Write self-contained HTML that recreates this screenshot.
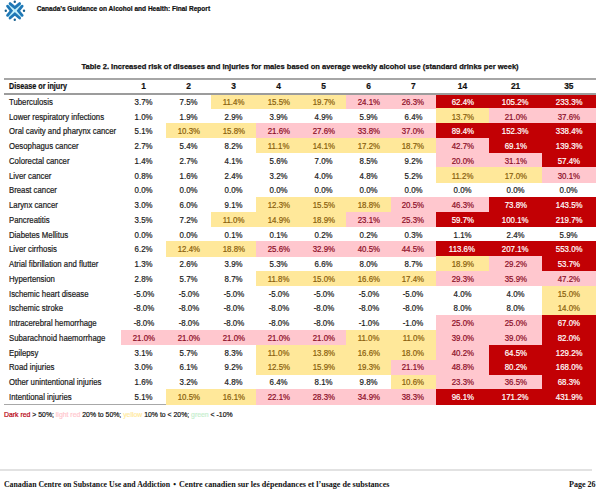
<!DOCTYPE html>
<html><head><meta charset="utf-8">
<style>
html,body{margin:0;padding:0;background:#fff;}
body{width:600px;height:490px;position:relative;overflow:hidden;font-family:"Liberation Sans",sans-serif;}
.logo{position:absolute;left:0;top:0;}
.top{position:absolute;left:36.7px;top:4.6px;font-size:6.55px;line-height:8px;font-weight:bold;color:#111;white-space:nowrap;-webkit-text-stroke:0.2px #111;}
.title{position:absolute;left:0;width:599.6px;text-align:center;top:62.2px;font-size:7.9px;line-height:10px;font-weight:bold;color:#111;white-space:nowrap;-webkit-text-stroke:0.25px #111;}
.title span{display:inline-block;transform:scaleX(0.954);}
.ln{position:absolute;background:#a0a0a0;}
.bg{position:absolute;height:15.29px;}
.c,.h,.lb,.hl{position:absolute;height:14.79px;line-height:14.79px;font-size:8.4px;white-space:nowrap;color:#1a1a1a;-webkit-text-stroke:0.2px currentColor;}
.c span,.h span{display:inline-block;transform:scaleX(0.94);}
.lb span,.hl span{display:inline-block;transform:scaleX(0.928);transform-origin:0 50%;}
.c{text-align:center;}
.h{top:79.2px;text-align:center;font-weight:bold;color:#111;}
.hl span{transform:scaleX(0.86);}
.h span{transform:scaleX(1.0);}
.lb{left:9.2px;}
.hl{left:9.1px;top:79.2px;font-weight:bold;color:#111;}
.leg{position:absolute;left:4px;top:410px;font-size:7.3px;color:#111;white-space:nowrap;-webkit-text-stroke:0.2px currentColor;transform:scaleX(0.943);transform-origin:0 50%;}
.foot{position:absolute;top:479.5px;line-height:10px;font-family:"Liberation Serif",serif;font-weight:bold;font-size:7.9px;color:#111;white-space:nowrap;transform:scaleX(1.0);transform-origin:0 50%;}
</style></head><body>
<svg class="logo" width="30" height="24" viewBox="0 0 30 24">
<g stroke="#bff0fb" stroke-width="1.8" stroke-linecap="round"><line x1="9.25" y1="5.18" x2="20.45" y2="16.38"/><line x1="20.45" y1="5.18" x2="9.25" y2="16.38"/></g>
<g fill="none" stroke="#1f78b6" stroke-width="2.8" stroke-linecap="round" stroke-linejoin="miter" stroke-miterlimit="8">
<polyline points="10.05,3.58 14.85,7.63 19.65,3.58"/><polyline points="10.05,17.98 14.85,13.93 19.65,17.98"/><polyline points="7.55,6.18 11.35,10.78 7.55,15.38"/><polyline points="22.15,6.18 18.35,10.78 22.15,15.38"/>
</g>
<g fill="#17608f">
<circle cx="14.78" cy="1.8" r="1.2"/>
<circle cx="14.78" cy="19.75" r="1.2"/>
<circle cx="5.8" cy="10.78" r="1.2"/>
<circle cx="24.0" cy="10.78" r="1.2"/>
</g>
</svg>
<div class="top">Canada&#8217;s Guidance on Alcohol and Health: Final Report</div>
<div class="title"><span>Table 2. Increased risk of diseases and injuries for males based on average weekly alcohol use (standard drinks per week)</span></div>
<div class="ln" style="left:3.5px;width:592.1px;top:403.6px;height:1.2px;background:#a8a8a8"></div>
<div class="bg" style="left:211px;width:45.6px;top:93.50px;background:#ffe89a"></div><div class="bg" style="left:256px;width:45.6px;top:93.50px;background:#ffe89a"></div><div class="bg" style="left:301px;width:45.6px;top:93.50px;background:#ffe89a"></div><div class="bg" style="left:346px;width:45.6px;top:93.50px;background:#ffc7ce"></div><div class="bg" style="left:391px;width:45.2px;top:93.50px;background:#ffc7ce"></div><div class="bg" style="left:435.6px;width:54.2px;top:93.50px;background:#c20004"></div><div class="bg" style="left:489.2px;width:53.4px;top:93.50px;background:#c20004"></div><div class="bg" style="left:542px;width:53.6px;top:93.50px;background:#c20004"></div><div class="bg" style="left:435.6px;width:54.2px;top:108.29px;background:#ffe89a"></div><div class="bg" style="left:489.2px;width:53.4px;top:108.29px;background:#ffc7ce"></div><div class="bg" style="left:542px;width:53.6px;top:108.29px;background:#ffc7ce"></div><div class="bg" style="left:166px;width:45.6px;top:123.08px;background:#ffe89a"></div><div class="bg" style="left:211px;width:45.6px;top:123.08px;background:#ffe89a"></div><div class="bg" style="left:256px;width:45.6px;top:123.08px;background:#ffc7ce"></div><div class="bg" style="left:301px;width:45.6px;top:123.08px;background:#ffc7ce"></div><div class="bg" style="left:346px;width:45.6px;top:123.08px;background:#ffc7ce"></div><div class="bg" style="left:391px;width:45.2px;top:123.08px;background:#ffc7ce"></div><div class="bg" style="left:435.6px;width:54.2px;top:123.08px;background:#c20004"></div><div class="bg" style="left:489.2px;width:53.4px;top:123.08px;background:#c20004"></div><div class="bg" style="left:542px;width:53.6px;top:123.08px;background:#c20004"></div><div class="bg" style="left:256px;width:45.6px;top:137.87px;background:#ffe89a"></div><div class="bg" style="left:301px;width:45.6px;top:137.87px;background:#ffe89a"></div><div class="bg" style="left:346px;width:45.6px;top:137.87px;background:#ffe89a"></div><div class="bg" style="left:391px;width:45.2px;top:137.87px;background:#ffe89a"></div><div class="bg" style="left:435.6px;width:54.2px;top:137.87px;background:#ffc7ce"></div><div class="bg" style="left:489.2px;width:53.4px;top:137.87px;background:#c20004"></div><div class="bg" style="left:542px;width:53.6px;top:137.87px;background:#c20004"></div><div class="bg" style="left:435.6px;width:54.2px;top:152.66px;background:#ffc7ce"></div><div class="bg" style="left:489.2px;width:53.4px;top:152.66px;background:#ffc7ce"></div><div class="bg" style="left:542px;width:53.6px;top:152.66px;background:#c20004"></div><div class="bg" style="left:435.6px;width:54.2px;top:167.45px;background:#ffe89a"></div><div class="bg" style="left:489.2px;width:53.4px;top:167.45px;background:#ffe89a"></div><div class="bg" style="left:542px;width:53.6px;top:167.45px;background:#ffc7ce"></div><div class="bg" style="left:256px;width:45.6px;top:197.03px;background:#ffe89a"></div><div class="bg" style="left:301px;width:45.6px;top:197.03px;background:#ffe89a"></div><div class="bg" style="left:346px;width:45.6px;top:197.03px;background:#ffe89a"></div><div class="bg" style="left:391px;width:45.2px;top:197.03px;background:#ffc7ce"></div><div class="bg" style="left:435.6px;width:54.2px;top:197.03px;background:#ffc7ce"></div><div class="bg" style="left:489.2px;width:53.4px;top:197.03px;background:#c20004"></div><div class="bg" style="left:542px;width:53.6px;top:197.03px;background:#c20004"></div><div class="bg" style="left:211px;width:45.6px;top:211.82px;background:#ffe89a"></div><div class="bg" style="left:256px;width:45.6px;top:211.82px;background:#ffe89a"></div><div class="bg" style="left:301px;width:45.6px;top:211.82px;background:#ffe89a"></div><div class="bg" style="left:346px;width:45.6px;top:211.82px;background:#ffc7ce"></div><div class="bg" style="left:391px;width:45.2px;top:211.82px;background:#ffc7ce"></div><div class="bg" style="left:435.6px;width:54.2px;top:211.82px;background:#c20004"></div><div class="bg" style="left:489.2px;width:53.4px;top:211.82px;background:#c20004"></div><div class="bg" style="left:542px;width:53.6px;top:211.82px;background:#c20004"></div><div class="bg" style="left:166px;width:45.6px;top:241.40px;background:#ffe89a"></div><div class="bg" style="left:211px;width:45.6px;top:241.40px;background:#ffe89a"></div><div class="bg" style="left:256px;width:45.6px;top:241.40px;background:#ffc7ce"></div><div class="bg" style="left:301px;width:45.6px;top:241.40px;background:#ffc7ce"></div><div class="bg" style="left:346px;width:45.6px;top:241.40px;background:#ffc7ce"></div><div class="bg" style="left:391px;width:45.2px;top:241.40px;background:#ffc7ce"></div><div class="bg" style="left:435.6px;width:54.2px;top:241.40px;background:#c20004"></div><div class="bg" style="left:489.2px;width:53.4px;top:241.40px;background:#c20004"></div><div class="bg" style="left:542px;width:53.6px;top:241.40px;background:#c20004"></div><div class="bg" style="left:435.6px;width:54.2px;top:256.19px;background:#ffe89a"></div><div class="bg" style="left:489.2px;width:53.4px;top:256.19px;background:#ffc7ce"></div><div class="bg" style="left:542px;width:53.6px;top:256.19px;background:#c20004"></div><div class="bg" style="left:256px;width:45.6px;top:270.98px;background:#ffe89a"></div><div class="bg" style="left:301px;width:45.6px;top:270.98px;background:#ffe89a"></div><div class="bg" style="left:346px;width:45.6px;top:270.98px;background:#ffe89a"></div><div class="bg" style="left:391px;width:45.2px;top:270.98px;background:#ffe89a"></div><div class="bg" style="left:435.6px;width:54.2px;top:270.98px;background:#ffc7ce"></div><div class="bg" style="left:489.2px;width:53.4px;top:270.98px;background:#ffc7ce"></div><div class="bg" style="left:542px;width:53.6px;top:270.98px;background:#ffc7ce"></div><div class="bg" style="left:542px;width:53.6px;top:285.77px;background:#ffe89a"></div><div class="bg" style="left:542px;width:53.6px;top:300.56px;background:#ffe89a"></div><div class="bg" style="left:435.6px;width:54.2px;top:315.35px;background:#ffc7ce"></div><div class="bg" style="left:489.2px;width:53.4px;top:315.35px;background:#ffc7ce"></div><div class="bg" style="left:542px;width:53.6px;top:315.35px;background:#c20004"></div><div class="bg" style="left:121px;width:45.6px;top:330.14px;background:#ffc7ce"></div><div class="bg" style="left:166px;width:45.6px;top:330.14px;background:#ffc7ce"></div><div class="bg" style="left:211px;width:45.6px;top:330.14px;background:#ffc7ce"></div><div class="bg" style="left:256px;width:45.6px;top:330.14px;background:#ffc7ce"></div><div class="bg" style="left:301px;width:45.6px;top:330.14px;background:#ffc7ce"></div><div class="bg" style="left:346px;width:45.6px;top:330.14px;background:#ffe89a"></div><div class="bg" style="left:391px;width:45.2px;top:330.14px;background:#ffe89a"></div><div class="bg" style="left:435.6px;width:54.2px;top:330.14px;background:#ffc7ce"></div><div class="bg" style="left:489.2px;width:53.4px;top:330.14px;background:#ffc7ce"></div><div class="bg" style="left:542px;width:53.6px;top:330.14px;background:#c20004"></div><div class="bg" style="left:256px;width:45.6px;top:344.93px;background:#ffe89a"></div><div class="bg" style="left:301px;width:45.6px;top:344.93px;background:#ffe89a"></div><div class="bg" style="left:346px;width:45.6px;top:344.93px;background:#ffe89a"></div><div class="bg" style="left:391px;width:45.2px;top:344.93px;background:#ffe89a"></div><div class="bg" style="left:435.6px;width:54.2px;top:344.93px;background:#ffc7ce"></div><div class="bg" style="left:489.2px;width:53.4px;top:344.93px;background:#c20004"></div><div class="bg" style="left:542px;width:53.6px;top:344.93px;background:#c20004"></div><div class="bg" style="left:256px;width:45.6px;top:359.72px;background:#ffe89a"></div><div class="bg" style="left:301px;width:45.6px;top:359.72px;background:#ffe89a"></div><div class="bg" style="left:346px;width:45.6px;top:359.72px;background:#ffe89a"></div><div class="bg" style="left:391px;width:45.2px;top:359.72px;background:#ffc7ce"></div><div class="bg" style="left:435.6px;width:54.2px;top:359.72px;background:#ffc7ce"></div><div class="bg" style="left:489.2px;width:53.4px;top:359.72px;background:#c20004"></div><div class="bg" style="left:542px;width:53.6px;top:359.72px;background:#c20004"></div><div class="bg" style="left:391px;width:45.2px;top:374.51px;background:#ffe89a"></div><div class="bg" style="left:435.6px;width:54.2px;top:374.51px;background:#ffc7ce"></div><div class="bg" style="left:489.2px;width:53.4px;top:374.51px;background:#ffc7ce"></div><div class="bg" style="left:542px;width:53.6px;top:374.51px;background:#c20004"></div><div class="bg" style="left:166px;width:45.6px;top:389.30px;background:#ffe89a"></div><div class="bg" style="left:211px;width:45.6px;top:389.30px;background:#ffe89a"></div><div class="bg" style="left:256px;width:45.6px;top:389.30px;background:#ffc7ce"></div><div class="bg" style="left:301px;width:45.6px;top:389.30px;background:#ffc7ce"></div><div class="bg" style="left:346px;width:45.6px;top:389.30px;background:#ffc7ce"></div><div class="bg" style="left:391px;width:45.2px;top:389.30px;background:#ffc7ce"></div><div class="bg" style="left:435.6px;width:54.2px;top:389.30px;background:#c20004"></div><div class="bg" style="left:489.2px;width:53.4px;top:389.30px;background:#c20004"></div><div class="bg" style="left:542px;width:53.6px;top:389.30px;background:#c20004"></div>
<div class="ln" style="left:4px;width:591.6px;top:78.2px;height:1.5px;background:#a6a6a6"></div>
<div class="ln" style="left:4px;width:591.6px;top:93.3px;height:1.5px;background:#9c9c9c"></div>
<div class="hl"><span>Disease or injury</span></div>
<div class="h" style="left:121px;width:45.0px"><span>1</span></div><div class="h" style="left:166px;width:45.0px"><span>2</span></div><div class="h" style="left:211px;width:45.0px"><span>3</span></div><div class="h" style="left:256px;width:45.0px"><span>4</span></div><div class="h" style="left:301px;width:45.0px"><span>5</span></div><div class="h" style="left:346px;width:45.0px"><span>6</span></div><div class="h" style="left:391px;width:44.6px"><span>7</span></div><div class="h" style="left:435.6px;width:53.6px"><span>14</span></div><div class="h" style="left:489.2px;width:52.8px"><span>21</span></div><div class="h" style="left:542px;width:53.6px"><span>35</span></div>
<div class="lb" style="top:95.00px"><span>Tuberculosis</span></div><div class="c" style="left:121px;width:45.0px;top:95.00px;"><span>3.7%</span></div><div class="c" style="left:166px;width:45.0px;top:95.00px;"><span>7.5%</span></div><div class="c" style="left:211px;width:45.0px;top:95.00px;color:#8a5e0c"><span>11.4%</span></div><div class="c" style="left:256px;width:45.0px;top:95.00px;color:#8a5e0c"><span>15.5%</span></div><div class="c" style="left:301px;width:45.0px;top:95.00px;color:#8a5e0c"><span>19.7%</span></div><div class="c" style="left:346px;width:45.0px;top:95.00px;color:#8c0c26"><span>24.1%</span></div><div class="c" style="left:391px;width:44.6px;top:95.00px;color:#8c0c26"><span>26.3%</span></div><div class="c" style="left:435.6px;width:53.6px;top:95.00px;color:#ffffff"><span>62.4%</span></div><div class="c" style="left:489.2px;width:52.8px;top:95.00px;color:#ffffff"><span>105.2%</span></div><div class="c" style="left:542px;width:53.6px;top:95.00px;color:#ffffff"><span>233.3%</span></div><div class="lb" style="top:109.74px"><span>Lower respiratory infections</span></div><div class="c" style="left:121px;width:45.0px;top:109.74px;"><span>1.0%</span></div><div class="c" style="left:166px;width:45.0px;top:109.74px;"><span>1.9%</span></div><div class="c" style="left:211px;width:45.0px;top:109.74px;"><span>2.9%</span></div><div class="c" style="left:256px;width:45.0px;top:109.74px;"><span>3.9%</span></div><div class="c" style="left:301px;width:45.0px;top:109.74px;"><span>4.9%</span></div><div class="c" style="left:346px;width:45.0px;top:109.74px;"><span>5.9%</span></div><div class="c" style="left:391px;width:44.6px;top:109.74px;"><span>6.4%</span></div><div class="c" style="left:435.6px;width:53.6px;top:109.74px;color:#8a5e0c"><span>13.7%</span></div><div class="c" style="left:489.2px;width:52.8px;top:109.74px;color:#8c0c26"><span>21.0%</span></div><div class="c" style="left:542px;width:53.6px;top:109.74px;color:#8c0c26"><span>37.6%</span></div><div class="lb" style="top:124.48px"><span>Oral cavity and pharynx cancer</span></div><div class="c" style="left:121px;width:45.0px;top:124.48px;"><span>5.1%</span></div><div class="c" style="left:166px;width:45.0px;top:124.48px;color:#8a5e0c"><span>10.3%</span></div><div class="c" style="left:211px;width:45.0px;top:124.48px;color:#8a5e0c"><span>15.8%</span></div><div class="c" style="left:256px;width:45.0px;top:124.48px;color:#8c0c26"><span>21.6%</span></div><div class="c" style="left:301px;width:45.0px;top:124.48px;color:#8c0c26"><span>27.6%</span></div><div class="c" style="left:346px;width:45.0px;top:124.48px;color:#8c0c26"><span>33.8%</span></div><div class="c" style="left:391px;width:44.6px;top:124.48px;color:#8c0c26"><span>37.0%</span></div><div class="c" style="left:435.6px;width:53.6px;top:124.48px;color:#ffffff"><span>89.4%</span></div><div class="c" style="left:489.2px;width:52.8px;top:124.48px;color:#ffffff"><span>152.3%</span></div><div class="c" style="left:542px;width:53.6px;top:124.48px;color:#ffffff"><span>338.4%</span></div><div class="lb" style="top:139.22px"><span>Oesophagus cancer</span></div><div class="c" style="left:121px;width:45.0px;top:139.22px;"><span>2.7%</span></div><div class="c" style="left:166px;width:45.0px;top:139.22px;"><span>5.4%</span></div><div class="c" style="left:211px;width:45.0px;top:139.22px;"><span>8.2%</span></div><div class="c" style="left:256px;width:45.0px;top:139.22px;color:#8a5e0c"><span>11.1%</span></div><div class="c" style="left:301px;width:45.0px;top:139.22px;color:#8a5e0c"><span>14.1%</span></div><div class="c" style="left:346px;width:45.0px;top:139.22px;color:#8a5e0c"><span>17.2%</span></div><div class="c" style="left:391px;width:44.6px;top:139.22px;color:#8a5e0c"><span>18.7%</span></div><div class="c" style="left:435.6px;width:53.6px;top:139.22px;color:#8c0c26"><span>42.7%</span></div><div class="c" style="left:489.2px;width:52.8px;top:139.22px;color:#ffffff"><span>69.1%</span></div><div class="c" style="left:542px;width:53.6px;top:139.22px;color:#ffffff"><span>139.3%</span></div><div class="lb" style="top:153.96px"><span>Colorectal cancer</span></div><div class="c" style="left:121px;width:45.0px;top:153.96px;"><span>1.4%</span></div><div class="c" style="left:166px;width:45.0px;top:153.96px;"><span>2.7%</span></div><div class="c" style="left:211px;width:45.0px;top:153.96px;"><span>4.1%</span></div><div class="c" style="left:256px;width:45.0px;top:153.96px;"><span>5.6%</span></div><div class="c" style="left:301px;width:45.0px;top:153.96px;"><span>7.0%</span></div><div class="c" style="left:346px;width:45.0px;top:153.96px;"><span>8.5%</span></div><div class="c" style="left:391px;width:44.6px;top:153.96px;"><span>9.2%</span></div><div class="c" style="left:435.6px;width:53.6px;top:153.96px;color:#8c0c26"><span>20.0%</span></div><div class="c" style="left:489.2px;width:52.8px;top:153.96px;color:#8c0c26"><span>31.1%</span></div><div class="c" style="left:542px;width:53.6px;top:153.96px;color:#ffffff"><span>57.4%</span></div><div class="lb" style="top:168.70px"><span>Liver cancer</span></div><div class="c" style="left:121px;width:45.0px;top:168.70px;"><span>0.8%</span></div><div class="c" style="left:166px;width:45.0px;top:168.70px;"><span>1.6%</span></div><div class="c" style="left:211px;width:45.0px;top:168.70px;"><span>2.4%</span></div><div class="c" style="left:256px;width:45.0px;top:168.70px;"><span>3.2%</span></div><div class="c" style="left:301px;width:45.0px;top:168.70px;"><span>4.0%</span></div><div class="c" style="left:346px;width:45.0px;top:168.70px;"><span>4.8%</span></div><div class="c" style="left:391px;width:44.6px;top:168.70px;"><span>5.2%</span></div><div class="c" style="left:435.6px;width:53.6px;top:168.70px;color:#8a5e0c"><span>11.2%</span></div><div class="c" style="left:489.2px;width:52.8px;top:168.70px;color:#8a5e0c"><span>17.0%</span></div><div class="c" style="left:542px;width:53.6px;top:168.70px;color:#8c0c26"><span>30.1%</span></div><div class="lb" style="top:183.44px"><span>Breast cancer</span></div><div class="c" style="left:121px;width:45.0px;top:183.44px;"><span>0.0%</span></div><div class="c" style="left:166px;width:45.0px;top:183.44px;"><span>0.0%</span></div><div class="c" style="left:211px;width:45.0px;top:183.44px;"><span>0.0%</span></div><div class="c" style="left:256px;width:45.0px;top:183.44px;"><span>0.0%</span></div><div class="c" style="left:301px;width:45.0px;top:183.44px;"><span>0.0%</span></div><div class="c" style="left:346px;width:45.0px;top:183.44px;"><span>0.0%</span></div><div class="c" style="left:391px;width:44.6px;top:183.44px;"><span>0.0%</span></div><div class="c" style="left:435.6px;width:53.6px;top:183.44px;"><span>0.0%</span></div><div class="c" style="left:489.2px;width:52.8px;top:183.44px;"><span>0.0%</span></div><div class="c" style="left:542px;width:53.6px;top:183.44px;"><span>0.0%</span></div><div class="lb" style="top:198.18px"><span>Larynx cancer</span></div><div class="c" style="left:121px;width:45.0px;top:198.18px;"><span>3.0%</span></div><div class="c" style="left:166px;width:45.0px;top:198.18px;"><span>6.0%</span></div><div class="c" style="left:211px;width:45.0px;top:198.18px;"><span>9.1%</span></div><div class="c" style="left:256px;width:45.0px;top:198.18px;color:#8a5e0c"><span>12.3%</span></div><div class="c" style="left:301px;width:45.0px;top:198.18px;color:#8a5e0c"><span>15.5%</span></div><div class="c" style="left:346px;width:45.0px;top:198.18px;color:#8a5e0c"><span>18.8%</span></div><div class="c" style="left:391px;width:44.6px;top:198.18px;color:#8c0c26"><span>20.5%</span></div><div class="c" style="left:435.6px;width:53.6px;top:198.18px;color:#8c0c26"><span>46.3%</span></div><div class="c" style="left:489.2px;width:52.8px;top:198.18px;color:#ffffff"><span>73.8%</span></div><div class="c" style="left:542px;width:53.6px;top:198.18px;color:#ffffff"><span>143.5%</span></div><div class="lb" style="top:212.92px"><span>Pancreatitis</span></div><div class="c" style="left:121px;width:45.0px;top:212.92px;"><span>3.5%</span></div><div class="c" style="left:166px;width:45.0px;top:212.92px;"><span>7.2%</span></div><div class="c" style="left:211px;width:45.0px;top:212.92px;color:#8a5e0c"><span>11.0%</span></div><div class="c" style="left:256px;width:45.0px;top:212.92px;color:#8a5e0c"><span>14.9%</span></div><div class="c" style="left:301px;width:45.0px;top:212.92px;color:#8a5e0c"><span>18.9%</span></div><div class="c" style="left:346px;width:45.0px;top:212.92px;color:#8c0c26"><span>23.1%</span></div><div class="c" style="left:391px;width:44.6px;top:212.92px;color:#8c0c26"><span>25.3%</span></div><div class="c" style="left:435.6px;width:53.6px;top:212.92px;color:#ffffff"><span>59.7%</span></div><div class="c" style="left:489.2px;width:52.8px;top:212.92px;color:#ffffff"><span>100.1%</span></div><div class="c" style="left:542px;width:53.6px;top:212.92px;color:#ffffff"><span>219.7%</span></div><div class="lb" style="top:227.66px"><span>Diabetes Mellitus</span></div><div class="c" style="left:121px;width:45.0px;top:227.66px;"><span>0.0%</span></div><div class="c" style="left:166px;width:45.0px;top:227.66px;"><span>0.0%</span></div><div class="c" style="left:211px;width:45.0px;top:227.66px;"><span>0.1%</span></div><div class="c" style="left:256px;width:45.0px;top:227.66px;"><span>0.1%</span></div><div class="c" style="left:301px;width:45.0px;top:227.66px;"><span>0.2%</span></div><div class="c" style="left:346px;width:45.0px;top:227.66px;"><span>0.2%</span></div><div class="c" style="left:391px;width:44.6px;top:227.66px;"><span>0.3%</span></div><div class="c" style="left:435.6px;width:53.6px;top:227.66px;"><span>1.1%</span></div><div class="c" style="left:489.2px;width:52.8px;top:227.66px;"><span>2.4%</span></div><div class="c" style="left:542px;width:53.6px;top:227.66px;"><span>5.9%</span></div><div class="lb" style="top:242.40px"><span>Liver cirrhosis</span></div><div class="c" style="left:121px;width:45.0px;top:242.40px;"><span>6.2%</span></div><div class="c" style="left:166px;width:45.0px;top:242.40px;color:#8a5e0c"><span>12.4%</span></div><div class="c" style="left:211px;width:45.0px;top:242.40px;color:#8a5e0c"><span>18.8%</span></div><div class="c" style="left:256px;width:45.0px;top:242.40px;color:#8c0c26"><span>25.6%</span></div><div class="c" style="left:301px;width:45.0px;top:242.40px;color:#8c0c26"><span>32.9%</span></div><div class="c" style="left:346px;width:45.0px;top:242.40px;color:#8c0c26"><span>40.5%</span></div><div class="c" style="left:391px;width:44.6px;top:242.40px;color:#8c0c26"><span>44.5%</span></div><div class="c" style="left:435.6px;width:53.6px;top:242.40px;color:#ffffff"><span>113.6%</span></div><div class="c" style="left:489.2px;width:52.8px;top:242.40px;color:#ffffff"><span>207.1%</span></div><div class="c" style="left:542px;width:53.6px;top:242.40px;color:#ffffff"><span>553.0%</span></div><div class="lb" style="top:257.14px"><span>Atrial fibrillation and flutter</span></div><div class="c" style="left:121px;width:45.0px;top:257.14px;"><span>1.3%</span></div><div class="c" style="left:166px;width:45.0px;top:257.14px;"><span>2.6%</span></div><div class="c" style="left:211px;width:45.0px;top:257.14px;"><span>3.9%</span></div><div class="c" style="left:256px;width:45.0px;top:257.14px;"><span>5.3%</span></div><div class="c" style="left:301px;width:45.0px;top:257.14px;"><span>6.6%</span></div><div class="c" style="left:346px;width:45.0px;top:257.14px;"><span>8.0%</span></div><div class="c" style="left:391px;width:44.6px;top:257.14px;"><span>8.7%</span></div><div class="c" style="left:435.6px;width:53.6px;top:257.14px;color:#8a5e0c"><span>18.9%</span></div><div class="c" style="left:489.2px;width:52.8px;top:257.14px;color:#8c0c26"><span>29.2%</span></div><div class="c" style="left:542px;width:53.6px;top:257.14px;color:#ffffff"><span>53.7%</span></div><div class="lb" style="top:271.88px"><span>Hypertension</span></div><div class="c" style="left:121px;width:45.0px;top:271.88px;"><span>2.8%</span></div><div class="c" style="left:166px;width:45.0px;top:271.88px;"><span>5.7%</span></div><div class="c" style="left:211px;width:45.0px;top:271.88px;"><span>8.7%</span></div><div class="c" style="left:256px;width:45.0px;top:271.88px;color:#8a5e0c"><span>11.8%</span></div><div class="c" style="left:301px;width:45.0px;top:271.88px;color:#8a5e0c"><span>15.0%</span></div><div class="c" style="left:346px;width:45.0px;top:271.88px;color:#8a5e0c"><span>16.6%</span></div><div class="c" style="left:391px;width:44.6px;top:271.88px;color:#8a5e0c"><span>17.4%</span></div><div class="c" style="left:435.6px;width:53.6px;top:271.88px;color:#8c0c26"><span>29.3%</span></div><div class="c" style="left:489.2px;width:52.8px;top:271.88px;color:#8c0c26"><span>35.9%</span></div><div class="c" style="left:542px;width:53.6px;top:271.88px;color:#8c0c26"><span>47.2%</span></div><div class="lb" style="top:286.62px"><span>Ischemic heart disease</span></div><div class="c" style="left:121px;width:45.0px;top:286.62px;"><span>-5.0%</span></div><div class="c" style="left:166px;width:45.0px;top:286.62px;"><span>-5.0%</span></div><div class="c" style="left:211px;width:45.0px;top:286.62px;"><span>-5.0%</span></div><div class="c" style="left:256px;width:45.0px;top:286.62px;"><span>-5.0%</span></div><div class="c" style="left:301px;width:45.0px;top:286.62px;"><span>-5.0%</span></div><div class="c" style="left:346px;width:45.0px;top:286.62px;"><span>-5.0%</span></div><div class="c" style="left:391px;width:44.6px;top:286.62px;"><span>-5.0%</span></div><div class="c" style="left:435.6px;width:53.6px;top:286.62px;"><span>4.0%</span></div><div class="c" style="left:489.2px;width:52.8px;top:286.62px;"><span>4.0%</span></div><div class="c" style="left:542px;width:53.6px;top:286.62px;color:#8a5e0c"><span>15.0%</span></div><div class="lb" style="top:301.36px"><span>Ischemic stroke</span></div><div class="c" style="left:121px;width:45.0px;top:301.36px;"><span>-8.0%</span></div><div class="c" style="left:166px;width:45.0px;top:301.36px;"><span>-8.0%</span></div><div class="c" style="left:211px;width:45.0px;top:301.36px;"><span>-8.0%</span></div><div class="c" style="left:256px;width:45.0px;top:301.36px;"><span>-8.0%</span></div><div class="c" style="left:301px;width:45.0px;top:301.36px;"><span>-8.0%</span></div><div class="c" style="left:346px;width:45.0px;top:301.36px;"><span>-8.0%</span></div><div class="c" style="left:391px;width:44.6px;top:301.36px;"><span>-8.0%</span></div><div class="c" style="left:435.6px;width:53.6px;top:301.36px;"><span>8.0%</span></div><div class="c" style="left:489.2px;width:52.8px;top:301.36px;"><span>8.0%</span></div><div class="c" style="left:542px;width:53.6px;top:301.36px;color:#8a5e0c"><span>14.0%</span></div><div class="lb" style="top:316.10px"><span>Intracerebral hemorrhage</span></div><div class="c" style="left:121px;width:45.0px;top:316.10px;"><span>-8.0%</span></div><div class="c" style="left:166px;width:45.0px;top:316.10px;"><span>-8.0%</span></div><div class="c" style="left:211px;width:45.0px;top:316.10px;"><span>-8.0%</span></div><div class="c" style="left:256px;width:45.0px;top:316.10px;"><span>-8.0%</span></div><div class="c" style="left:301px;width:45.0px;top:316.10px;"><span>-8.0%</span></div><div class="c" style="left:346px;width:45.0px;top:316.10px;"><span>-1.0%</span></div><div class="c" style="left:391px;width:44.6px;top:316.10px;"><span>-1.0%</span></div><div class="c" style="left:435.6px;width:53.6px;top:316.10px;color:#8c0c26"><span>25.0%</span></div><div class="c" style="left:489.2px;width:52.8px;top:316.10px;color:#8c0c26"><span>25.0%</span></div><div class="c" style="left:542px;width:53.6px;top:316.10px;color:#ffffff"><span>67.0%</span></div><div class="lb" style="top:330.84px"><span>Subarachnoid haemorrhage</span></div><div class="c" style="left:121px;width:45.0px;top:330.84px;color:#8c0c26"><span>21.0%</span></div><div class="c" style="left:166px;width:45.0px;top:330.84px;color:#8c0c26"><span>21.0%</span></div><div class="c" style="left:211px;width:45.0px;top:330.84px;color:#8c0c26"><span>21.0%</span></div><div class="c" style="left:256px;width:45.0px;top:330.84px;color:#8c0c26"><span>21.0%</span></div><div class="c" style="left:301px;width:45.0px;top:330.84px;color:#8c0c26"><span>21.0%</span></div><div class="c" style="left:346px;width:45.0px;top:330.84px;color:#8a5e0c"><span>11.0%</span></div><div class="c" style="left:391px;width:44.6px;top:330.84px;color:#8a5e0c"><span>11.0%</span></div><div class="c" style="left:435.6px;width:53.6px;top:330.84px;color:#8c0c26"><span>39.0%</span></div><div class="c" style="left:489.2px;width:52.8px;top:330.84px;color:#8c0c26"><span>39.0%</span></div><div class="c" style="left:542px;width:53.6px;top:330.84px;color:#ffffff"><span>82.0%</span></div><div class="lb" style="top:345.58px"><span>Epilepsy</span></div><div class="c" style="left:121px;width:45.0px;top:345.58px;"><span>3.1%</span></div><div class="c" style="left:166px;width:45.0px;top:345.58px;"><span>5.7%</span></div><div class="c" style="left:211px;width:45.0px;top:345.58px;"><span>8.3%</span></div><div class="c" style="left:256px;width:45.0px;top:345.58px;color:#8a5e0c"><span>11.0%</span></div><div class="c" style="left:301px;width:45.0px;top:345.58px;color:#8a5e0c"><span>13.8%</span></div><div class="c" style="left:346px;width:45.0px;top:345.58px;color:#8a5e0c"><span>16.6%</span></div><div class="c" style="left:391px;width:44.6px;top:345.58px;color:#8a5e0c"><span>18.0%</span></div><div class="c" style="left:435.6px;width:53.6px;top:345.58px;color:#8c0c26"><span>40.2%</span></div><div class="c" style="left:489.2px;width:52.8px;top:345.58px;color:#ffffff"><span>64.5%</span></div><div class="c" style="left:542px;width:53.6px;top:345.58px;color:#ffffff"><span>129.2%</span></div><div class="lb" style="top:360.32px"><span>Road injuries</span></div><div class="c" style="left:121px;width:45.0px;top:360.32px;"><span>3.0%</span></div><div class="c" style="left:166px;width:45.0px;top:360.32px;"><span>6.1%</span></div><div class="c" style="left:211px;width:45.0px;top:360.32px;"><span>9.2%</span></div><div class="c" style="left:256px;width:45.0px;top:360.32px;color:#8a5e0c"><span>12.5%</span></div><div class="c" style="left:301px;width:45.0px;top:360.32px;color:#8a5e0c"><span>15.9%</span></div><div class="c" style="left:346px;width:45.0px;top:360.32px;color:#8a5e0c"><span>19.3%</span></div><div class="c" style="left:391px;width:44.6px;top:360.32px;color:#8c0c26"><span>21.1%</span></div><div class="c" style="left:435.6px;width:53.6px;top:360.32px;color:#8c0c26"><span>48.8%</span></div><div class="c" style="left:489.2px;width:52.8px;top:360.32px;color:#ffffff"><span>80.2%</span></div><div class="c" style="left:542px;width:53.6px;top:360.32px;color:#ffffff"><span>168.0%</span></div><div class="lb" style="top:375.06px"><span>Other unintentional injuries</span></div><div class="c" style="left:121px;width:45.0px;top:375.06px;"><span>1.6%</span></div><div class="c" style="left:166px;width:45.0px;top:375.06px;"><span>3.2%</span></div><div class="c" style="left:211px;width:45.0px;top:375.06px;"><span>4.8%</span></div><div class="c" style="left:256px;width:45.0px;top:375.06px;"><span>6.4%</span></div><div class="c" style="left:301px;width:45.0px;top:375.06px;"><span>8.1%</span></div><div class="c" style="left:346px;width:45.0px;top:375.06px;"><span>9.8%</span></div><div class="c" style="left:391px;width:44.6px;top:375.06px;color:#8a5e0c"><span>10.6%</span></div><div class="c" style="left:435.6px;width:53.6px;top:375.06px;color:#8c0c26"><span>23.3%</span></div><div class="c" style="left:489.2px;width:52.8px;top:375.06px;color:#8c0c26"><span>36.5%</span></div><div class="c" style="left:542px;width:53.6px;top:375.06px;color:#ffffff"><span>68.3%</span></div><div class="lb" style="top:389.80px"><span>Intentional injuries</span></div><div class="c" style="left:121px;width:45.0px;top:389.80px;"><span>5.1%</span></div><div class="c" style="left:166px;width:45.0px;top:389.80px;color:#8a5e0c"><span>10.5%</span></div><div class="c" style="left:211px;width:45.0px;top:389.80px;color:#8a5e0c"><span>16.1%</span></div><div class="c" style="left:256px;width:45.0px;top:389.80px;color:#8c0c26"><span>22.1%</span></div><div class="c" style="left:301px;width:45.0px;top:389.80px;color:#8c0c26"><span>28.3%</span></div><div class="c" style="left:346px;width:45.0px;top:389.80px;color:#8c0c26"><span>34.9%</span></div><div class="c" style="left:391px;width:44.6px;top:389.80px;color:#8c0c26"><span>38.3%</span></div><div class="c" style="left:435.6px;width:53.6px;top:389.80px;color:#ffffff"><span>96.1%</span></div><div class="c" style="left:489.2px;width:52.8px;top:389.80px;color:#ffffff"><span>171.2%</span></div><div class="c" style="left:542px;width:53.6px;top:389.80px;color:#ffffff"><span>431.9%</span></div>
<div class="leg"><span style="color:#b80010">Dark red</span> &gt; 50%; <span style="color:#ffc7ce">light red</span> 20% to 50%; <span style="color:#ffeb9c">yellow</span> 10% to &lt; 20%; <span style="color:#c6efce">green</span> &lt; -10%</div>
<div class="ln" style="left:0;width:592px;top:469.3px;height:1.4px;background:#e2e2e2"></div>
<div class="foot" style="left:4.3px;transform:scaleX(0.987)">Canadian Centre on Substance Use and Addiction</div>
<div class="foot" style="left:173.2px;transform:none">&#8226;</div>
<div class="foot" style="left:178.5px;transform:scaleX(1.025)">Centre canadien sur les d&eacute;pendances et l&#8217;usage de substances</div>
<div class="foot" style="left:568.5px;transform:scaleX(1.02)">Page 26</div>
</body></html>
